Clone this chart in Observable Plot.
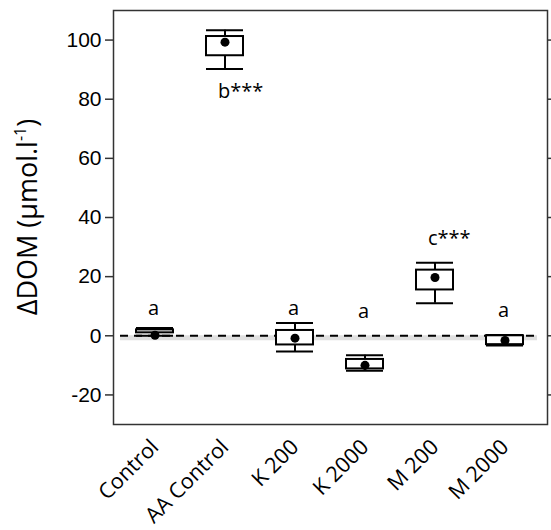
<!DOCTYPE html>
<html>
<head>
<meta charset="utf-8">
<script src="https://cdn.jsdelivr.net/npm/d3@7"></script>
<script src="https://cdn.jsdelivr.net/npm/@observablehq/plot@0.6"></script>
<style>
  html, body { margin: 0; padding: 0; background: #fff; }
  #chart svg { display: block; }
</style>
</head>
<body>
<div id="chart"></div>
<script>
const categories = ["Control", "AA Control", "K 200", "K 2000", "M 200", "M 2000"];
const lowWhisker = [0.0, 90.2, -5.3, -11.8, 11.0, -3.3];
const q1 = [1.0, 94.7, -3.1, -11.2, 15.5, -3.0];
const q3 = [2.0, 101.2, 1.8, -8.0, 22.2, 0.0];
const highWhisker = [2.6, 103.3, 4.3, -6.6, 24.7, 0.3];
const means = [0.2, 99.3, -0.8, -10.0, 19.7, -1.6];
const letters = ["a", "b***", "a", "a", "c***", "a"];
const letterY = [9.3, 82.5, 9.3, 8.1, 33.0, 8.6];
const yTicks = [-20, 0, 20, 40, 60, 80, 100];

const data = categories.map((c, i) => ({
  cat: c, low: lowWhisker[i], q1: q1[i], q3: q3[i], hi: highWhisker[i],
  mean: means[i], letter: letters[i], ly: letterY[i]
}));

const chart = Plot.plot({
  width: 551,
  height: 530,
  marginLeft: 113,
  marginRight: 4,
  marginTop: 10,
  marginBottom: 106,
  style: { fontFamily: "Open Sans", background: "white" },
  x: { type: "band", domain: categories, paddingInner: 0.47, paddingOuter: 0.335 },
  y: { domain: [-30, 110] },
  marks: [
    Plot.ruleY([0], { stroke: "#bbb", strokeWidth: 5, strokeOpacity: 0.45, dy: 2, insetLeft: 7, insetRight: 10 }),
    Plot.ruleY([0], { stroke: "black", strokeWidth: 2, strokeDasharray: "8,6", insetLeft: 7, insetRight: 10 }),
    Plot.ruleX(data, { x: "cat", y1: "low", y2: "hi", stroke: "black", strokeWidth: 2 }),
    Plot.barY(data, { x: "cat", y1: "q1", y2: "q3", fill: "white", stroke: "black", strokeWidth: 2 }),
    Plot.tickY(data, { x: "cat", y: "hi", stroke: "black", strokeWidth: 2 }),
    Plot.tickY(data, { x: "cat", y: "low", stroke: "black", strokeWidth: 2 }),
    Plot.dot(data, { x: "cat", y: "mean", r: 4.5, fill: "black", stroke: null }),
    Plot.text(data, { x: "cat", y: "ly", text: "letter", textAnchor: "start", dx: -7, fontSize: 20, fill: "black", fontFamily: "Open Sans" }),
    Plot.frame({ stroke: "#333", strokeWidth: 1.5 }),
    Plot.axisY(yTicks, { anchor: "left", tickSize: 8, tickPadding: 4, fontSize: 21, fontFamily: "Liberation Sans", tickFormat: d => String(d), label: null, stroke: "#333", strokeWidth: 1.5, fill: "black" }),
    Plot.axisY(yTicks, { anchor: "right", tickSize: 7, tickFormat: () => "", label: null, stroke: "#333", strokeWidth: 1.5 }),
    Plot.axisX({ anchor: "bottom", tickSize: 0, tickRotate: -45, tickPadding: 19, fontSize: 21.5, fontFamily: "Open Sans", label: null, fill: "black" })
  ]
});

document.getElementById("chart").appendChild(chart);

const svg = d3.select(chart);
const title = svg.append("text")
  .attr("transform", "translate(37,217) rotate(-90)")
  .attr("text-anchor", "middle")
  .attr("font-family", "Open Sans")
  .attr("font-size", 27)
  .attr("fill", "black");
title.append("tspan").text("ΔDOM (μmol.l");
title.append("tspan").attr("baseline-shift", "super").attr("font-size", 16).text("-1");
title.append("tspan").text(")");
</script>
</body>
</html>
